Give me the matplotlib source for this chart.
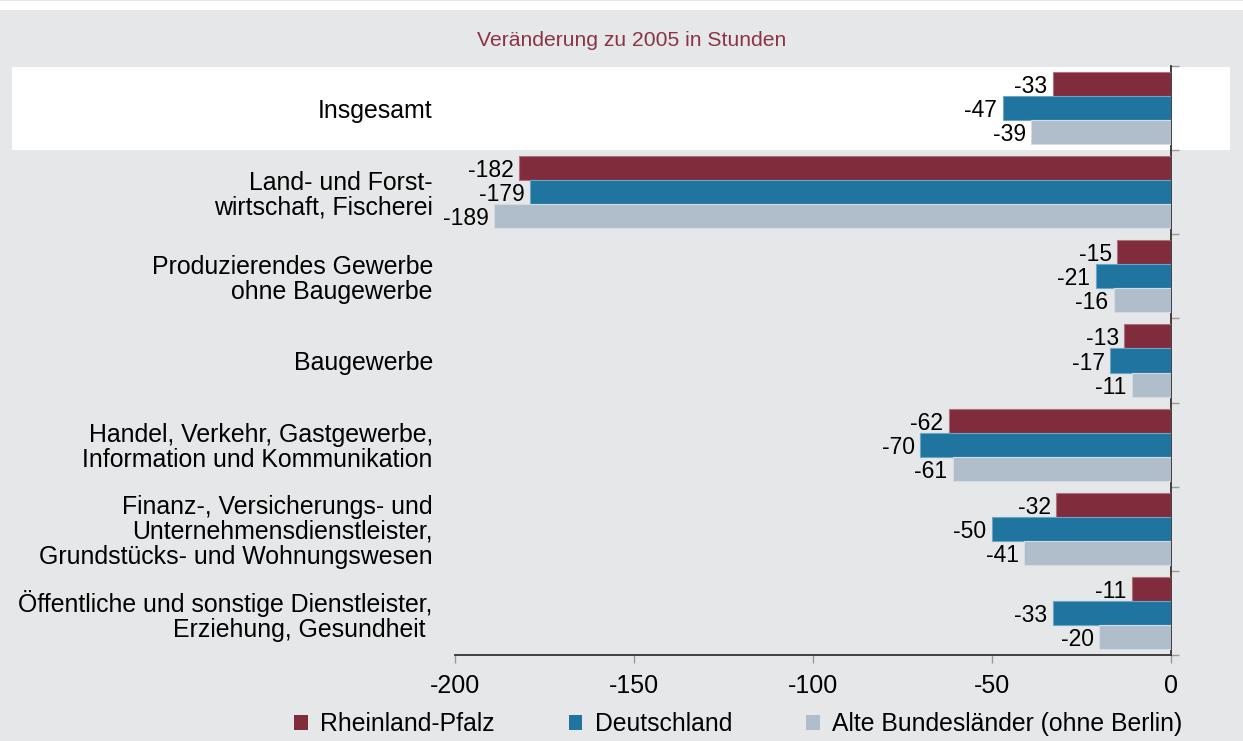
import matplotlib
matplotlib.use('Agg')
import matplotlib.pyplot as plt
from matplotlib.patches import Rectangle, Patch
import numpy as np

# Daten
kategorien = [
    'Insgesamt',
    'Land- und Forst-\nwirtschaft, Fischerei',
    'Produzierendes Gewerbe\nohne Baugewerbe',
    'Baugewerbe',
    'Handel, Verkehr, Gastgewerbe,\nInformation und Kommunikation',
    'Finanz-, Versicherungs- und\nUnternehmensdienstleister,\nGrundstücks- und Wohnungswesen',
    'Öffentliche und sonstige Dienstleister,\nErziehung, Gesundheit ',
]
rheinland_pfalz = [-33, -182, -15, -13, -62, -32, -11]
deutschland = [-47, -179, -21, -17, -70, -50, -33]
alte_laender = [-39, -189, -16, -11, -61, -41, -20]
serien_namen = ['Rheinland-Pfalz', 'Deutschland', 'Alte Bundesländer (ohne Berlin)']
x_ticks = [-200, -150, -100, -50, 0]
titel = 'Veränderung zu 2005 in Stunden'

farben = ['#802c3c', '#1f74a0', '#b0bdcb']
kanten = ['#b07080', '#6aa6c6', '#d3dbe3']
hintergrund = '#e6e7e8'

plt.rcParams['font.family'] = ['Liberation Sans', 'DejaVu Sans']

fig = plt.figure(figsize=(12.43, 7.41), dpi=100, facecolor=hintergrund)

# weisser Streifen oben und weisses Band hinter "Insgesamt"
fig.patches.append(Rectangle((0, 1 - 10 / 741), 1, 9 / 741, transform=fig.transFigure,
                             facecolor='white', edgecolor='none', zorder=-1))
fig.patches.append(Rectangle((12 / 1243, (741 - 150) / 741), (1230 - 12) / 1243, 83 / 741,
                             transform=fig.transFigure, facecolor='white',
                             edgecolor='none', zorder=-1))

ax = fig.add_axes([455 / 1243, (741 - 655) / 741, (1171 - 455) / 1243, (655 - 66) / 741])
ax.set_facecolor('none')
ax.set_zorder(1)

y = np.arange(len(kategorien))
h = 24 / 84
serien = [rheinland_pfalz, deutschland, alte_laender]
for i, werte in enumerate(serien):
    pos = y + (i - 1) * h
    bars = ax.barh(pos, werte, height=h, color=farben[i], edgecolor=kanten[i],
                   linewidth=0.8, label=serien_namen[i], zorder=3)
    for b, v in zip(bars, werte):
        ax.annotate(str(v), (v, b.get_y() + b.get_height() / 2), xytext=(-4, 0),
                    textcoords='offset points', ha='right', va='center_baseline',
                    fontsize=16.5, color='black')

ax.set_xlim(-200, 0)
ax.set_ylim(len(kategorien) - 0.5, -0.5)
ax.set_xticks(x_ticks)
ax.set_xticklabels([str(t) for t in x_ticks], fontsize=18)
ax.set_yticks(y)
ax.set_yticklabels(kategorien, fontsize=17.9, linespacing=1.05)
ax.set_yticks(np.arange(-0.5, len(kategorien)), minor=True)

ax.tick_params(axis='y', which='major', length=0, pad=16)
ax.tick_params(axis='y', which='minor', left=False, right=True, length=6, color='#999999', width=1)
ax.tick_params(axis='x', length=6, color='#999999', width=1, pad=8)

for s in ['top', 'left']:
    ax.spines[s].set_visible(False)
ax.spines['bottom'].set_color('#333333')
ax.spines['bottom'].set_linewidth(1.3)
ax.spines['right'].set_color('#333333')
ax.spines['right'].set_linewidth(1.3)

fig.text(632 / 1243, 1 - 41 / 741, titel, ha='center', va='center', fontsize=15.2, color='#8b3347')

handles = [Patch(facecolor=farben[i], edgecolor='none', label=serien_namen[i]) for i in range(3)]
fig.legend(handles=handles, loc='center left', bbox_to_anchor=(294 / 1243, 1 - 724 / 741),
           ncol=3, frameon=False, fontsize=17.8, handlelength=0.55, handleheight=0.55,
           handletextpad=0.5, columnspacing=3.0, borderaxespad=0, borderpad=0)

fig.savefig('out.png', dpi=100, facecolor=hintergrund)
